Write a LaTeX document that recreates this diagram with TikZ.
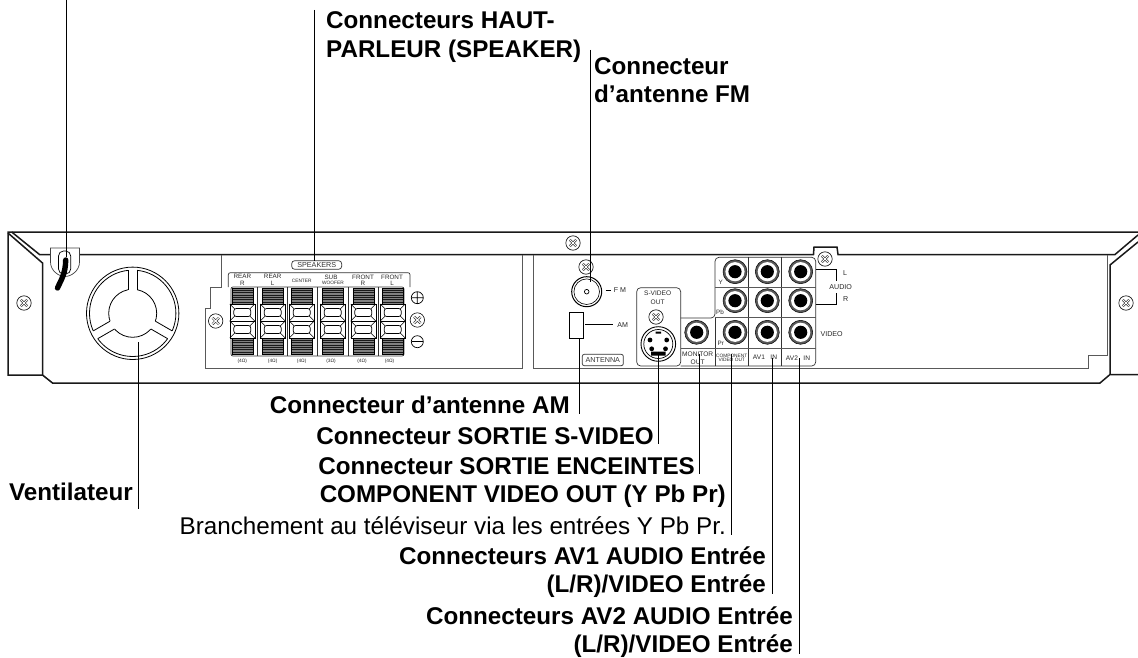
\documentclass[tikz,border=0pt]{standalone}
\usepackage{fontspec}
\setmainfont{Liberation Sans}
\begin{document}
\begin{tikzpicture}
  [x=1pt,y=-1pt,
   caption/.style={font=\bfseries\fontsize{24.2}{28.6}\selectfont, inner sep=0pt, align=right, anchor=east},
   plaintxt/.style={font=\fontsize{24.2}{28.6}\selectfont, inner sep=0pt, anchor=east},
   mini/.style={font=\fontsize{6.3}{6.4}\selectfont, inner sep=0pt, align=center, text=black!85},
   side/.style={font=\fontsize{7.1}{8}\selectfont, inner sep=0pt, text=black!85},
   tinier/.style={font=\fontsize{4.8}{7}\selectfont, inner sep=0pt, align=center, text=black!85},
   leader/.style={line width=1pt, black},
   hull/.style={line width=1.5pt, black!90},
   panel/.style={line width=0.7pt, black!65},
   box/.style={line width=0.7pt, black!80, rounded corners=2pt},
   screw/.pic={
     \draw[line width=0.6pt, fill=white] (0,0) circle (7.2pt);
     \draw[line width=2.4pt, black!80] (-3.2,-3.2) -- (3.2,3.2) (-3.2,3.2) -- (3.2,-3.2);
     \draw[line width=1pt, white] (-3.2,-3.2) -- (3.2,3.2) (-3.2,3.2) -- (3.2,-3.2);
   },
   jack/.pic={
     \fill[black!65] (0,0) circle (12pt);
     \fill[white] (0,0) circle (9.6pt);
     \fill[black] (0,0) circle (6.6pt);
     \draw[line width=0.5pt, black] (0,0) circle (12pt);
   }]

 \useasboundingbox (0,0) rectangle (1138,658);

 % hull of the unit
 \draw[hull] (1138,232) -- (8,232) -- (8,375) -- (42.5,375) -- (52.5,383) -- (1100,383) -- (1110,374.5) -- (1138,374.5);
 \draw[hull] (8,233) -- (42.5,263) -- (42.5,375);
 \draw[hull] (11.7,232) -- (39.5,254.5) -- (50,254.5);
 \draw[hull] (80,254.5) -- (813.5,254.5) -- (814,247) -- (837,247) -- (838,254.5) -- (1115,254.5) -- (1138,235);
 \draw[hull] (1138,242) -- (1110,265) -- (1110,374.5);

 % the two plates
 \draw[panel] (221,255) -- (221,287) -- (210,287) -- (210,308) -- (205,308) -- (205,368) -- (522,368) -- (522,255);
 \draw[panel] (533,255) -- (533,368) -- (1088,368) -- (1088,355) -- (1107,355) -- (1107,255);

 \foreach \x/\y in {24/303, 215.7/321, 417.3/320, 573/243, 586/267, 656/317, 825/259, 1126/303}
   \pic at (\x,\y) {screw};

 % cable clip
 \draw[line width=0.7pt, black!75] (50.5,262) -- (50.5,248) -- (79.5,248) -- (79.5,262) .. controls (79.5,271) and (71,276.5) .. (65,276.5) .. controls (59,276.5) and (50.5,271) .. (50.5,262);
 \draw[line width=0.7pt, rounded corners=5pt, fill=white] (58.5,251) rectangle (70.7,274);
 \draw[line width=5.4pt, line cap=round] (65.7,260) .. controls (65.5,274) and (61,280) .. (57.5,288);

 % fan
 \coordinate (fan) at (132.7,313.3);
 \draw[line width=0.8pt] (fan) circle (46.2pt);
 \draw[line width=0.8pt] (fan) circle (43.2pt);
 \draw[line width=0.8pt] (fan) circle (24pt);
 \foreach \a in {90,210,330} {
   \begin{scope}[shift={(fan)},rotate=\a]
     \fill[white] (22,-4.5) rectangle (44.5,4.5);
     \draw[line width=0.8pt] (23.6,-4.5) -- (43,-4.5) (23.6,4.5) -- (43,4.5);
   \end{scope}
 }

 % speaker terminals
 \node[box, draw, minimum width=50pt, minimum height=8.6pt, inner sep=0pt, rounded corners=3pt, font=\fontsize{7.2}{8}\selectfont] (speakers) at (316.7,265) {SPEAKERS};
 \draw[box] (228.3,287) -- (228.3,272.7) -- (410,272.7) -- (410,287);
 \draw[box] (231,356) rectangle (404,287);
 \foreach \cx in {242.3,272.7,301.7,332.7,363.3,392.7} {
   \foreach \gy in {288,338} {
     \fill[black!50] (\cx-10.5,\gy) rectangle (\cx+10.5,\gy+16);
     \foreach \k in {1,...,6}
       \draw[line width=0.6pt, black!90] (\cx-10.5,\gy+\k*2.3) -- (\cx+10.5,\gy+\k*2.3);
     \draw[line width=0.5pt] (\cx-10.5,\gy) rectangle (\cx+10.5,\gy+16);
   }
   \draw[line width=0.6pt, fill=white] (\cx-12.5,304) rectangle (\cx+12.5,338);
   \draw[line width=1pt] (\cx-12.5,321) -- (\cx+12.5,321);
   \foreach \my in {312.5,329.5} {
     \draw[line width=0.7pt, rounded corners=2.5pt] (\cx-8.5,\my-4) rectangle (\cx+8.5,\my+4);
     \draw[line width=0.6pt] (\cx-12.5,\my-8.5) -- (\cx-7.5,\my-3.5) (\cx+12.5,\my-8.5) -- (\cx+7.5,\my-3.5)
                             (\cx-12.5,\my+8.5) -- (\cx-7.5,\my+3.5) (\cx+12.5,\my+8.5) -- (\cx+7.5,\my+3.5);
   }
 }
 \foreach \sx in {257.5,287.2,317.2,348,378}
   \draw[line width=0.8pt, black!80] (\sx,287) -- (\sx,356);
 \node[mini] (rearR) at (242.3,280) {REAR\\R};
 \node[mini] (rearL) at (272.7,280) {REAR\\L};
 \node[tinier] (center) at (301.7,280.5) {CENTER};
 \node[mini] (sub) at (331,277.3) {SUB};
 \node[tinier] (woofer) at (333,283) {WOOFER};
 \node[mini] (frontR) at (363,280) {FRONT\\R};
 \node[mini] (frontL) at (392,280) {FRONT\\L};
 \foreach \x/\t [count=\i] in {242.3/4,272.7/4,301.7/4,331/3,362/4,389.5/4}
   \node[tinier] (ohm\i) at (\x,361.7) {(\t Ω)};
 \draw[line width=0.7pt] (417.3,297.7) circle (6pt) (412,297.7) -- (422.6,297.7) (417.3,292.4) -- (417.3,303);
 \draw[line width=0.7pt] (417.3,341.7) circle (6pt);
 \draw[line width=1.2pt] (412,341.7) -- (422.6,341.7);

 % antennas
 \draw[line width=1pt] (586.7,291.7) circle (15pt);
 \draw[line width=0.6pt] (586.7,291.7) circle (12.8pt);
 \draw[line width=0.7pt] (586.7,291.7) circle (2.3pt);
 \draw[line width=0.8pt] (605.5,290) -- (611,290);
 \node[side] (fm) at (620,290) {F M};
 \draw[line width=0.7pt] (569.3,312.3) rectangle (583.3,338.3);
 \draw[line width=0.7pt] (585,324.3) -- (613.3,324.3);
 \node[side] (am) at (622.7,324.7) {AM};
 \node[box, draw, minimum width=41pt, minimum height=11.4pt, inner sep=0pt, font=\fontsize{7.2}{8}\selectfont] (antenna) at (602.8,360) {ANTENNA};

 % s-video
 \draw[box, rounded corners=4pt] (636.7,287.7) rectangle (680.7,366);
 \node[mini, font=\fontsize{6.6}{6.6}\selectfont] (svideo) at (657.7,298) {S-VIDEO\\[2pt]OUT};
 \draw[line width=0.9pt] (658.3,344) circle (17.3pt);
 \draw[line width=0.7pt] (658.3,344) circle (14.5pt);
 \fill (650,340) circle (2.4pt) (666.7,340) circle (2.4pt) (651.7,348.8) circle (2.4pt) (665.5,348.8) circle (2.4pt);
 \fill (655.5,331.5) rectangle (661,333.5) (651,351.5) rectangle (665.5,355.5);

 % sockets
 \draw[box, rounded corners=4pt] (680.7,318) -- (715,318) -- (715,257.3) -- (815.7,257.3) -- (815.7,366) -- (680.7,366);
 \draw[box] (748.3,257.3) -- (748.3,366) (781.7,257.3) -- (781.7,366) (715,318) -- (715,366);
 \draw[panel] (715,287.7) -- (815.7,287.7) (715,317.7) -- (815.7,317.7) (680.7,348.3) -- (815.7,348.3);
 \foreach \x/\y in {735/271.7, 735/300.7, 735/332.3, 767.3/271.7, 767.3/300.7, 767.3/332.3, 800.7/271.7, 800.7/300.7, 800.7/332.3, 696.7/332.3}
   \pic at (\x,\y) {jack};
 \node[mini] (y) at (720.7,282.3) {Y};
 \node[mini] (pb) at (720,312.7) {Pb};
 \node[mini] (pr) at (720.7,343.3) {Pr};
 \node[mini, font=\fontsize{6.6}{6.6}\selectfont] (monitor) at (697.7,358) {MONITOR\\[1.6pt]OUT};
 \node[tinier] (component) at (731.7,358) {COMPONENT\\[-2.4pt]VIDEO OUT};
 \node[mini, font=\fontsize{6.6}{6.6}\selectfont] (av1) at (765,357.7) {AV1\ \ \ IN};
 \node[mini, font=\fontsize{6.6}{6.6}\selectfont] (av2) at (798,357.7) {AV2\ \ \ IN};
 \draw[line width=0.7pt] (815.7,269.3) -- (836,269.3) -- (836,280.7) (815.7,304.3) -- (836,304.3) -- (836,293.3);
 \node[side] (l) at (845,272.7) {L};
 \node[side] (audio) at (840.7,287) {AUDIO};
 \node[side] (r) at (845.7,299.3) {R};
 \node[side] (video) at (831.7,334.3) {VIDEO};

 % captions
 \node[caption, anchor=west, align=left] (hp) at (326,37) {Connecteurs HAUT-\\PARLEUR (SPEAKER)};
 \node[caption, anchor=west, align=left] (fmlabel) at (594,80) {Connecteur\\d’antenne FM};
 \node[caption] (amlabel) at (570,405) {Connecteur d’antenne AM};
 \node[caption] (svlabel) at (654,436) {Connecteur SORTIE S-VIDEO};
 \node[caption] (monlabel) at (695,466) {Connecteur SORTIE ENCEINTES};
 \node[caption] (complabel) at (726,496) {COMPONENT VIDEO OUT (Y Pb Pr)};
 \node[plaintxt] (tvlabel) at (726,526) {Branchement au téléviseur via les entrées Y Pb Pr.};
 \node[caption] (avalabel) at (766,572) {Connecteurs AV1 AUDIO Entrée\\(L/R)/VIDEO Entrée};
 \node[caption] (avblabel) at (793,632) {Connecteurs AV2 AUDIO Entrée\\(L/R)/VIDEO Entrée};
 \node[caption] (fanlabel) at (133,492) {Ventilateur};

 % leader ends
 \coordinate (cableA) at (66,0);      \coordinate (cableB) at (66,257);
 \coordinate (hpA) at (314,10);       \coordinate (hpB) at (314,260.7);
 \coordinate (fmA) at (590,50);       \coordinate (fmB) at (590,282);
 \coordinate (amA) at (579,338);      \coordinate (amB) at (579,414);
 \coordinate (svA) at (658.3,352);    \coordinate (svB) at (658.3,444);
 \coordinate (monA) at (699.5,354);   \coordinate (monB) at (699.5,474);
 \coordinate (compA) at (731,354);    \coordinate (compB) at (731,535);
 \coordinate (avaA) at (772,358);     \coordinate (avaB) at (772,594);
 \coordinate (avbA) at (799,358);     \coordinate (avbB) at (799,654);
 \coordinate (fanA) at (138,342);     \coordinate (fanB) at (138,509);

 \foreach \from/\to in {cableA/cableB, hpA/hpB, fmA/fmB, amA/amB, svA/svB, monA/monB, compA/compB, avaA/avaB, avbA/avbB, fanA/fanB}
   \draw[leader] (\from) -- (\to);

\end{tikzpicture}
\end{document}
